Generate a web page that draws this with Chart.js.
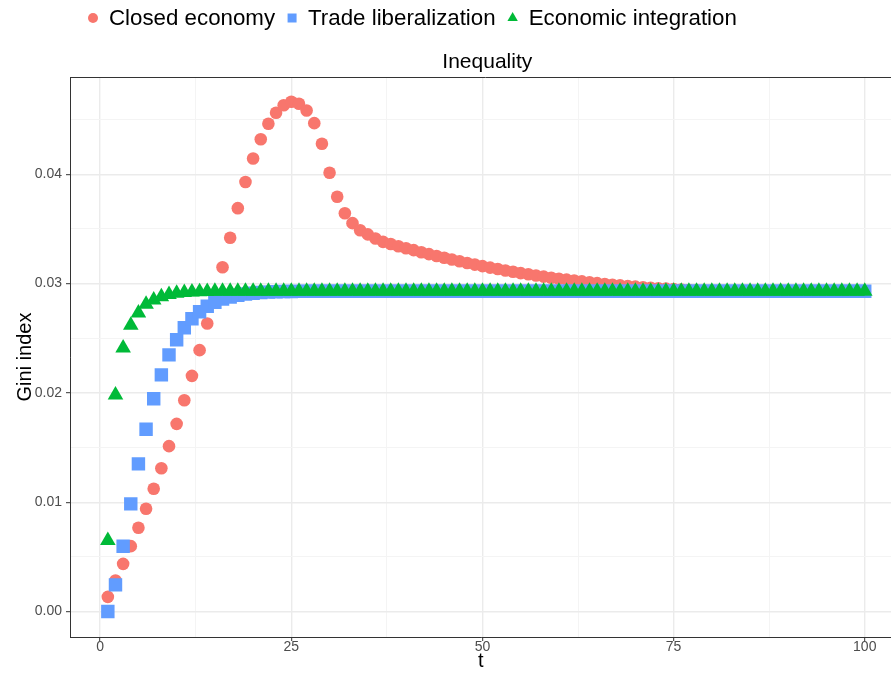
<!DOCTYPE html>
<html>
<head>
<meta charset="utf-8">
<script src="https://cdn.jsdelivr.net/npm/chart.js@4"></script>
<style>
  html, body { margin: 0; padding: 0; overflow: hidden; background: #ffffff; }
  #wrap { position: absolute; left: 0; top: 0; width: 901px; height: 677px; }
  canvas { display: block; }
</style>
</head>
<body>
<div id="wrap"><canvas id="chart"></canvas></div>
<script>
// Time steps of the simulation
const periods = [
  1, 2, 3, 4, 5, 6, 7, 8, 9, 10,
  11, 12, 13, 14, 15, 16, 17, 18, 19, 20,
  21, 22, 23, 24, 25, 26, 27, 28, 29, 30,
  31, 32, 33, 34, 35, 36, 37, 38, 39, 40,
  41, 42, 43, 44, 45, 46, 47, 48, 49, 50,
  51, 52, 53, 54, 55, 56, 57, 58, 59, 60,
  61, 62, 63, 64, 65, 66, 67, 68, 69, 70,
  71, 72, 73, 74, 75, 76, 77, 78, 79, 80,
  81, 82, 83, 84, 85, 86, 87, 88, 89, 90,
  91, 92, 93, 94, 95, 96, 97, 98, 99, 100
];

// Gini index per period, one list per scenario
const closedEconomy = [
  0.00134, 0.00284, 0.00436, 0.00598, 0.00766, 0.00940, 0.01123, 0.01311, 0.01513, 0.01717,
  0.01933, 0.02156, 0.02391, 0.02635, 0.02885, 0.03150, 0.03420, 0.03690, 0.03930, 0.04145,
  0.04320, 0.04462, 0.04563, 0.04632, 0.04663, 0.04645, 0.04584, 0.04468, 0.04279, 0.04014,
  0.03794, 0.03644, 0.03553, 0.03488, 0.03450, 0.03412, 0.03382, 0.03362, 0.03342, 0.03324,
  0.03306, 0.03287, 0.03270, 0.03252, 0.03236, 0.03220, 0.03204, 0.03188, 0.03174, 0.03160,
  0.03146, 0.03133, 0.03120, 0.03108, 0.03096, 0.03085, 0.03074, 0.03064, 0.03054, 0.03045,
  0.03036, 0.03028, 0.03020, 0.03012, 0.03004, 0.02997, 0.02990, 0.02984, 0.02978, 0.02972,
  0.02967, 0.02962, 0.02958, 0.02954, 0.02950, 0.02946, 0.02942, 0.02939, 0.02936, 0.02934,
  0.02933, 0.02932, 0.02931, 0.02930, 0.02930, 0.02930, 0.02930, 0.02930, 0.02930, 0.02930,
  0.02930, 0.02930, 0.02930, 0.02930, 0.02930, 0.02930, 0.02930, 0.02930, 0.02930, 0.02930
];

const tradeLiberalization = [
  0.00000, 0.00244, 0.00598, 0.00985, 0.01351, 0.01668, 0.01946, 0.02165, 0.02348, 0.02486,
  0.02596, 0.02678, 0.02742, 0.02793, 0.02830, 0.02858, 0.02878, 0.02893, 0.02904, 0.02912,
  0.02918, 0.02922, 0.02925, 0.02927, 0.02928, 0.02929, 0.02930, 0.02930, 0.02930, 0.02930,
  0.02930, 0.02930, 0.02930, 0.02930, 0.02930, 0.02930, 0.02930, 0.02930, 0.02930, 0.02930,
  0.02930, 0.02930, 0.02930, 0.02930, 0.02930, 0.02930, 0.02930, 0.02930, 0.02930, 0.02930,
  0.02930, 0.02930, 0.02930, 0.02930, 0.02930, 0.02930, 0.02930, 0.02930, 0.02930, 0.02930,
  0.02930, 0.02930, 0.02930, 0.02930, 0.02930, 0.02930, 0.02930, 0.02930, 0.02930, 0.02930,
  0.02930, 0.02930, 0.02930, 0.02930, 0.02930, 0.02930, 0.02930, 0.02930, 0.02930, 0.02930,
  0.02930, 0.02930, 0.02930, 0.02930, 0.02930, 0.02930, 0.02930, 0.02930, 0.02930, 0.02930,
  0.02930, 0.02930, 0.02930, 0.02930, 0.02930, 0.02930, 0.02930, 0.02930, 0.02930, 0.02930
];

const economicIntegration = [
  0.00650, 0.01980, 0.02410, 0.02620, 0.02730, 0.02810, 0.02850, 0.02880, 0.02900, 0.02912,
  0.02919, 0.02923, 0.02926, 0.02928, 0.02929, 0.02930, 0.02930, 0.02930, 0.02930, 0.02930,
  0.02930, 0.02930, 0.02930, 0.02930, 0.02930, 0.02930, 0.02930, 0.02930, 0.02930, 0.02930,
  0.02930, 0.02930, 0.02930, 0.02930, 0.02930, 0.02930, 0.02930, 0.02930, 0.02930, 0.02930,
  0.02930, 0.02930, 0.02930, 0.02930, 0.02930, 0.02930, 0.02930, 0.02930, 0.02930, 0.02930,
  0.02930, 0.02930, 0.02930, 0.02930, 0.02930, 0.02930, 0.02930, 0.02930, 0.02930, 0.02930,
  0.02930, 0.02930, 0.02930, 0.02930, 0.02930, 0.02930, 0.02930, 0.02930, 0.02930, 0.02930,
  0.02930, 0.02930, 0.02930, 0.02930, 0.02930, 0.02930, 0.02930, 0.02930, 0.02930, 0.02930,
  0.02930, 0.02930, 0.02930, 0.02930, 0.02930, 0.02930, 0.02930, 0.02930, 0.02930, 0.02930,
  0.02930, 0.02930, 0.02930, 0.02930, 0.02930, 0.02930, 0.02930, 0.02930, 0.02930, 0.02930
];

const seriesNames = ['Closed economy', 'Trade liberalization', 'Economic integration'];
const seriesColors = ['#F8766D', '#619CFF', '#00BA38'];

// Labelled ticks and the lighter in-between grid lines
const xTickLabels = [0, 25, 50, 75, 100];
const xMinorGrid = [12.5, 37.5, 62.5, 87.5];
const yTickLabels = [0, 0.01, 0.02, 0.03, 0.04];
const yMinorGrid = [0.005, 0.015, 0.025, 0.035, 0.045];

// Full panel extent on x; only the part up to about 103.5 is on screen
const xPanelMin = -3.95;
const xPanelMax = 104.95;
const xVisibleMax = 103.5;

const FONT = "'Liberation Sans', Arial, Helvetica, sans-serif";

function toPoints(values) {
  return periods.map((t, i) => ({ x: t, y: values[i] }));
}

function isLabelled(list, v) {
  return list.some(t => Math.abs(t - v) < 1e-9);
}

// Top panel line, plot title and legend drawn on top of the chart
const panelDecor = {
  id: 'panelDecor',
  afterDraw(chart) {
    const { ctx, chartArea } = chart;
    const xScale = chart.scales.x;
    ctx.save();
    ctx.strokeStyle = '#333333';
    ctx.lineWidth = 1;
    ctx.beginPath();
    ctx.moveTo(chartArea.left, chartArea.top + 0.5);
    ctx.lineTo(chart.width, chartArea.top + 0.5);
    ctx.stroke();

    // title, centred over the whole panel
    ctx.fillStyle = '#000000';
    ctx.font = '21px ' + FONT;
    ctx.textAlign = 'center';
    ctx.textBaseline = 'alphabetic';
    const mid = xScale.getPixelForValue((xPanelMin + xPanelMax) / 2);
    ctx.fillText('Inequality', mid + 1, 68);

    // legend
    ctx.font = '22.3px ' + FONT;
    ctx.textAlign = 'left';
    ctx.textBaseline = 'middle';
    let x = 93;
    const y = 18;
    seriesNames.forEach((name, i) => {
      ctx.fillStyle = seriesColors[i];
      ctx.beginPath();
      if (i === 0) {
        ctx.arc(x, y, 5, 0, Math.PI * 2);
      } else if (i === 1) {
        ctx.rect(x - 4.5, y - 4.5, 9, 9);
      } else {
        ctx.moveTo(x, y - 6);
        ctx.lineTo(x + 5.2, y + 3);
        ctx.lineTo(x - 5.2, y + 3);
        ctx.closePath();
      }
      ctx.fill();
      ctx.fillStyle = '#000000';
      const tx = x + 16;
      ctx.fillText(name, tx, y + 1);
      x = tx + ctx.measureText(name).width + 17;
    });
    ctx.restore();
  }
};

const data = {
  datasets: [
    {
      label: seriesNames[0],
      data: toPoints(closedEconomy),
      pointStyle: 'circle',
      pointRadius: 6.3,
      backgroundColor: seriesColors[0],
      borderColor: seriesColors[0],
      borderWidth: 0,
      order: 3
    },
    {
      label: seriesNames[1],
      data: toPoints(tradeLiberalization),
      pointStyle: 'rect',
      pointRadius: 9.5,
      backgroundColor: seriesColors[1],
      borderColor: seriesColors[1],
      borderWidth: 0,
      order: 2
    },
    {
      label: seriesNames[2],
      data: toPoints(economicIntegration),
      pointStyle: 'triangle',
      pointRadius: 9,
      backgroundColor: seriesColors[2],
      borderColor: seriesColors[2],
      borderWidth: 0,
      order: 1
    }
  ]
};

new Chart(document.getElementById('chart'), {
  type: 'scatter',
  data,
  plugins: [panelDecor],
  options: {
    responsive: true,
    maintainAspectRatio: false,
    devicePixelRatio: 1,
    animation: false,
    events: [],
    layout: { padding: { top: 77, right: 0, bottom: 0, left: 0 } },
    plugins: {
      legend: { display: false },
      title: { display: false },
      tooltip: { enabled: false }
    },
    scales: {
      x: {
        type: 'linear',
        bounds: 'data',
        min: xPanelMin,
        max: xVisibleMax,
        afterBuildTicks(scale) {
          scale.ticks = xTickLabels.concat(xMinorGrid).sort((a, b) => a - b).map(v => ({ value: v }));
        },
        afterFit(scale) {
          scale.height = 40;
          scale.paddingLeft = 0;
          scale.paddingRight = 0;
        },
        ticks: {
          autoSkip: false,
          maxRotation: 0,
          padding: -2,
          color: '#4D4D4D',
          font: { family: FONT, size: 14 },
          callback: v => isLabelled(xTickLabels, v) ? String(v) : ''
        },
        grid: {
          drawTicks: true,
          tickLength: 4,
          color: c => isLabelled(xTickLabels, c.tick.value) ? '#EBEBEB' : '#F4F4F4',
          lineWidth: c => isLabelled(xTickLabels, c.tick.value) ? 1.4 : 1,
          tickColor: c => isLabelled(xTickLabels, c.tick.value) ? '#333333' : 'rgba(0,0,0,0)',
          tickWidth: 1
        },
        border: { display: true, color: '#333333', width: 1 },
        title: {
          display: true,
          text: 't',
          color: '#000000',
          font: { family: FONT, size: 20 },
          padding: { top: 0, bottom: 4 }
        }
      },
      y: {
        type: 'linear',
        min: -0.00233,
        max: 0.0489,
        afterBuildTicks(scale) {
          scale.ticks = yTickLabels.concat(yMinorGrid).sort((a, b) => a - b).map(v => ({ value: v }));
        },
        afterFit(scale) {
          scale.width = 70;
          scale.paddingTop = 0;
          scale.paddingBottom = 0;
          scale.paddingRight = 0;
        },
        ticks: {
          autoSkip: false,
          padding: 4,
          color: '#4D4D4D',
          font: { family: FONT, size: 14 },
          callback: v => isLabelled(yTickLabels, v) ? v.toFixed(2) : ''
        },
        grid: {
          drawTicks: true,
          tickLength: 4,
          color: c => isLabelled(yTickLabels, c.tick.value) ? '#EBEBEB' : '#F4F4F4',
          lineWidth: c => isLabelled(yTickLabels, c.tick.value) ? 1.4 : 1,
          tickColor: c => isLabelled(yTickLabels, c.tick.value) ? '#333333' : 'rgba(0,0,0,0)',
          tickWidth: 1
        },
        border: { display: true, color: '#333333', width: 1 },
        title: {
          display: true,
          text: 'Gini index',
          color: '#000000',
          font: { family: FONT, size: 20 },
          padding: { top: 13, bottom: 0 }
        }
      }
    }
  }
});
</script>
</body>
</html>
